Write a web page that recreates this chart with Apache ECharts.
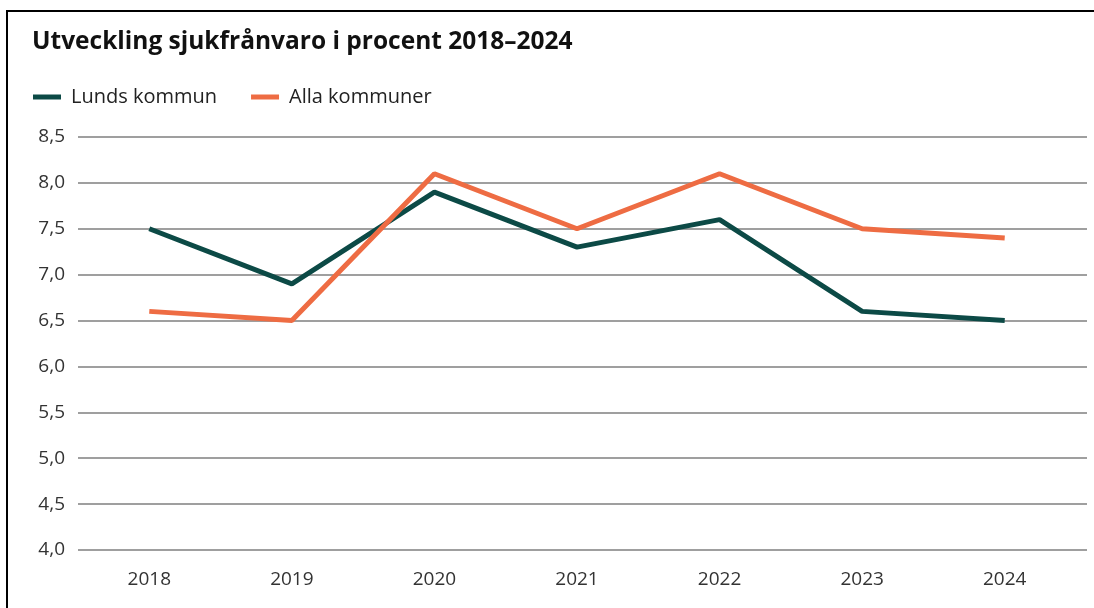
<!DOCTYPE html>
<html>
<head>
<meta charset="utf-8">
<script src="https://cdn.jsdelivr.net/npm/echarts@6/dist/echarts.min.js"></script>
<style>
  html, body { margin: 0; padding: 0; background: #fff; }
  #chart { width: 1094px; height: 608px; }
</style>
</head>
<body>
<div id="chart"></div>
<script>
// data
const years = ['2018', '2019', '2020', '2021', '2022', '2023', '2024'];
const lundsKommun = [7.5, 6.9, 7.9, 7.3, 7.6, 6.6, 6.5];
const allaKommuner = [6.6, 6.5, 8.1, 7.5, 8.1, 7.5, 7.4];

const font = 'Open Sans';
const yMin = 4, yMax = 8.5, yStep = 0.5;

const chart = echarts.init(document.getElementById('chart'));

const option = {
  backgroundColor: '#fff',
  animation: false,
  textStyle: { fontFamily: font },
  graphic: [
    {
      type: 'rect',
      shape: { x: 7, y: 11, width: 1200, height: 800 },
      style: { fill: 'none', stroke: '#000', lineWidth: 2 }
    },
    {
      type: 'text',
      left: 32, top: 30,
      style: { text: 'Utveckling sjukfrånvaro i procent 2018–2024', font: 'bold 24.5px "Open Sans"', fill: '#111' }
    }
  ],
  legend: {
    left: 28, top: 82,
    itemWidth: 28, itemHeight: 5, itemGap: 34,
    icon: 'rect',
    textStyle: { fontSize: 20, color: '#222', fontFamily: font, padding: [0, 0, 0, 5] },
    data: ['Lunds kommun', 'Alla kommuner']
  },
  grid: [
    // wide grid: gridlines and y labels
    { left: 78, right: 7, top: 137, bottom: 58 },
    // data grid: category bands
    { left: 78, right: 18, top: 137, bottom: 58 }
  ],
  xAxis: [
    { type: 'category', gridIndex: 0, data: years, show: false },
    {
      type: 'category', gridIndex: 1, data: years,
      axisLine: { show: false }, axisTick: { show: false },
      axisLabel: { fontSize: 19, color: '#333', margin: 20, fontFamily: font }
    }
  ],
  yAxis: [
    {
      type: 'value', gridIndex: 0, min: yMin, max: yMax, interval: yStep,
      axisLine: { show: false }, axisTick: { show: false },
      axisLabel: {
        fontSize: 19, color: '#333', margin: 13, fontFamily: font,
        formatter: v => v.toFixed(1).replace('.', ',')
      },
      splitLine: { lineStyle: { color: '#7f7f7f', width: 1.5 } }
    },
    {
      type: 'value', gridIndex: 1, min: yMin, max: yMax, interval: yStep,
      show: false, splitLine: { show: false }
    }
  ],
  series: [
    {
      name: 'Lunds kommun', type: 'line', xAxisIndex: 1, yAxisIndex: 1,
      data: lundsKommun, symbol: 'none',
      itemStyle: { color: '#0c4a46' },
      lineStyle: { color: '#0c4a46', width: 5 }
    },
    {
      name: 'Alla kommuner', type: 'line', xAxisIndex: 1, yAxisIndex: 1,
      data: allaKommuner, symbol: 'none',
      itemStyle: { color: '#ee6c43' },
      lineStyle: { color: '#ee6c43', width: 5 }
    }
  ]
};

chart.setOption(option);
</script>
</body>
</html>
